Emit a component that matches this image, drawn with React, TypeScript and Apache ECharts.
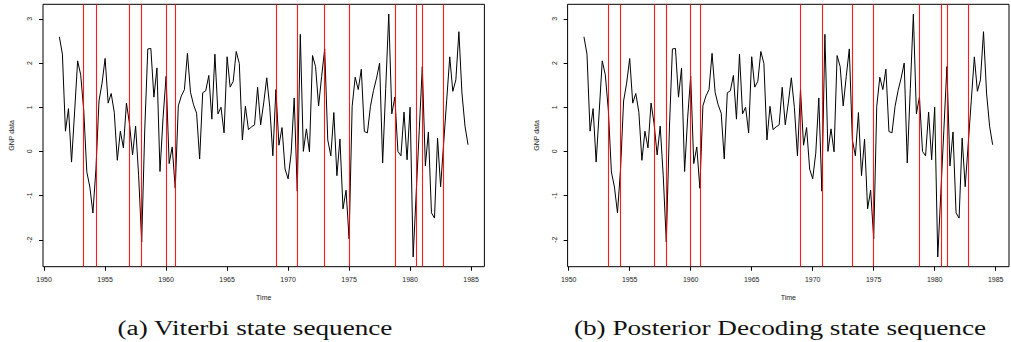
import React, { useEffect, useRef } from "react";
import * as echarts from "echarts";

// Quarterly GNP growth series, starting 1951 Q2
const startYear = 1951.25;
const periodsPerYear = 4;
const gnp: number[] = [
  2.593, 2.202, 0.458, 0.969, -0.242, 0.893, 2.050, 1.734, 0.930, -0.464,
  -0.807, -1.395, -0.396, 1.142, 1.546, 2.104, 1.093, 1.311, 0.888, -0.202,
  0.456, 0.080, 1.095, 0.626, -0.081, 0.575, -0.554, -2.053, 0.485, 2.319,
  2.331, 1.228, 1.890, -0.455, 0.760, 1.701, -0.276, 0.101, -0.834, 1.030,
  1.255, 1.397, 2.220, 1.341, 1.054, 0.866, -0.173, 1.327, 1.372, 1.720,
  0.730, 2.202, 0.850, 0.999, 0.420, 2.143, 1.455, 1.584, 2.262, 1.990,
  0.259, 1.021, 0.493, 0.555, 0.601, 1.452, 0.601, 1.097, 1.666, 0.99,
  -0.10, 1.40, 0.14, 0.54, -0.40, -0.62, -0.04, 1.21, -0.90, 2.65,
  0.00, 0.51, -0.01, 2.17, 1.92, 1.03, 1.70, 2.32, 0.26, -0.10,
  0.88, -0.55, 0.28, -1.30, -0.88, -1.98, 1.02, 1.68, 1.40, 1.86,
  0.45, 0.42, 1.02, 1.38, 1.66, 2.00, -0.26, 1.42, 3.11, 0.85,
  1.23, 0.00, -0.10, 0.89, -0.19, 1.00, -2.39, -0.95, 0.48, 1.92,
  -0.33, 0.44, -1.39, -1.51, 0.30, -0.80, 0.18, 1.16, 2.14, 1.36,
  1.62, 2.71, 1.32, 0.57, 0.15,
];

// State switch times (red vertical lines)
const viterbiSwitches = [
  1953.25, 1954.25, 1957.0, 1958.0, 1960.0, 1960.75, 1969.0, 1970.75,
  1973.0, 1975.0, 1978.75, 1980.5, 1981.0, 1982.75,
];
const posteriorSwitches = [
  1953.25, 1954.25, 1957.0, 1958.0, 1960.0, 1960.75, 1969.0, 1970.75,
  1973.25, 1975.0, 1978.75, 1980.5, 1981.0, 1982.75,
];

const xTicks = [1950, 1955, 1960, 1965, 1970, 1975, 1980, 1985];
const yTicks = [-2, -1, 0, 1, 2, 3];
const captions = ["(a) Viterbi state sequence", "(b) Posterior Decoding state sequence"];
const xTitle = "Time";
const yTitle = "GNP data";

export default function App() {
  const ref = useRef<HTMLDivElement>(null);
  useEffect(() => {
    if (!ref.current) return;
    const chart = echarts.init(ref.current, undefined, { renderer: "svg" });
    const points = gnp.map((v, i) => [startYear + i / periodsPerYear, v]);
    const tMin = points[0][0] as number;
    const tMax = points[points.length - 1][0] as number;
    const vMin = Math.min(...gnp);
    const vMax = Math.max(...gnp);
    const padX = (tMax - tMin) * 0.04;
    const padY = (vMax - vMin) * 0.04;
    const sans = "'Liberation Sans', Arial, sans-serif";
    const grids = [
      { left: 43, top: 4.3, width: 441.4, height: 262.4 },
      { left: 567.6, top: 4.3, width: 441.4, height: 262.4 },
    ];
    const switchSets = [viterbiSwitches, posteriorSwitches];
    const option: any = {
      animation: false,
      grid: grids.map((g) => ({
        ...g,
        show: true,
        borderColor: "#000",
        borderWidth: 1,
        backgroundColor: "#fff",
      })),
      xAxis: grids.map((_, k) => ({
        type: "value",
        gridIndex: k,
        min: tMin - padX,
        max: tMax + padX,
        name: xTitle,
        nameLocation: "middle",
        nameGap: 27,
        nameTextStyle: { fontFamily: sans, fontSize: 7, color: "#222" },
        axisLine: { show: false, onZero: false },
        axisTick: {
          show: true,
          customValues: xTicks,
          length: 4,
          lineStyle: { color: "#000", width: 1 },
        },
        axisLabel: {
          customValues: xTicks,
          formatter: (v: number) => String(Math.round(v)),
          fontFamily: sans,
          fontSize: 7,
          color: "#222",
          margin: 9,
        },
        splitLine: { show: false },
      })),
      yAxis: grids.map((_, k) => ({
        type: "value",
        gridIndex: k,
        min: vMin - padY,
        max: vMax + padY,
        name: yTitle,
        nameLocation: "middle",
        nameGap: 28,
        nameRotate: 90,
        nameTextStyle: { fontFamily: sans, fontSize: 7, color: "#222" },
        axisLine: { show: false, onZero: false },
        axisTick: {
          show: true,
          customValues: yTicks,
          length: 4,
          lineStyle: { color: "#000", width: 1 },
        },
        axisLabel: {
          customValues: yTicks,
          formatter: (v: number) => String(Math.round(v)),
          rotate: 90,
          fontFamily: sans,
          fontSize: 7,
          color: "#222",
          margin: 10,
        },
        splitLine: { show: false },
      })),
      series: [
        ...grids.map((_, k) => ({
          type: "line",
          xAxisIndex: k,
          yAxisIndex: k,
          data: points,
          showSymbol: false,
          symbol: "none",
          lineStyle: { color: "#000", width: 1 },
          z: 2,
        })),
        ...grids.map((_, k) => ({
          type: "line",
          xAxisIndex: k,
          yAxisIndex: k,
          data: [],
          z: 3,
          markLine: {
            silent: true,
            symbol: ["none", "none"],
            label: { show: false },
            lineStyle: { color: "#ff0000", width: 1.1, type: "solid", opacity: 0.9 },
            data: switchSets[k].map((t) => ({ xAxis: t })),
          },
        })),
      ],
      graphic: captions.map((c, k) => ({
        type: "text",
        x: k === 0 ? 255 : 780,
        y: 328,
        scaleX: 1.36,
        style: {
          text: c,
          fontFamily: "'Liberation Serif', 'Times New Roman', serif",
          fontSize: 20,
          fill: "#111",
          textAlign: "center",
          textVerticalAlign: "middle",
        },
      })),
    };
    chart.setOption(option);
    return () => chart.dispose();
  }, []);
  return (
    <div
      ref={ref}
      style={{ position: "absolute", left: 0, top: 0, width: 1011, height: 342, background: "#fff" }}
    />
  );
}
